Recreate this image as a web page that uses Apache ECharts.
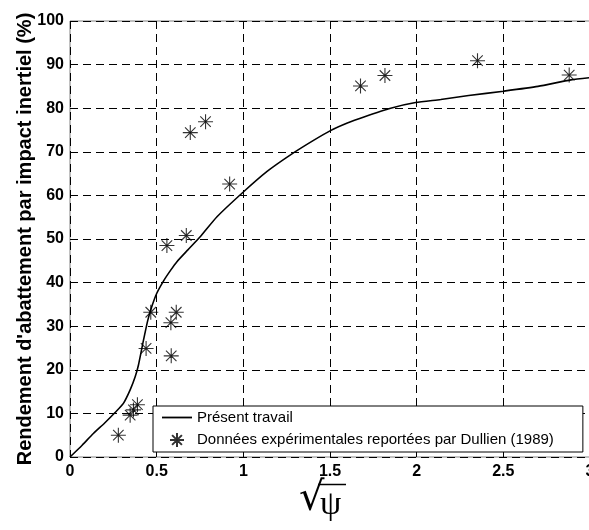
<!DOCTYPE html>
<html>
<head>
<meta charset="utf-8">
<script src="https://cdn.jsdelivr.net/npm/echarts@6/dist/echarts.min.js"></script>
<style>html,body{margin:0;padding:0;background:#fff;}#c{width:589px;height:530px;}</style>
</head>
<body>
<div id="c"></div>
<script>
// Model curve ("Présent travail")
var curveX = [0, 0.07, 0.135, 0.2, 0.26, 0.308, 0.347, 0.376, 0.395, 0.424, 0.449, 0.472, 0.5, 0.54, 0.58, 0.617, 0.68, 0.751, 0.848, 0.992, 1.137, 1.272, 1.4, 1.5, 1.6, 1.696, 1.85, 1.994, 2.139, 2.3, 2.501, 2.7, 2.89, 3.0];
var curveY = [0, 2.7, 5.4, 7.8, 10.2, 12.3, 15.4, 18.4, 21.1, 26.8, 31.4, 34.5, 37.5, 40.4, 42.8, 44.8, 47.5, 50.5, 55.1, 60.5, 65.5, 69.3, 72.5, 74.8, 76.6, 78.0, 80.0, 81.3, 82.0, 82.9, 83.9, 85.0, 86.5, 87.0];
// Experimental data (Dullien 1989)
var expX = [0.279, 0.347, 0.366, 0.389, 0.439, 0.466, 0.559, 0.582, 0.584, 0.613, 0.671, 0.694, 0.782, 0.921, 1.676, 1.817, 2.351, 2.88];
var expY = [5.0, 9.6, 10.8, 12.0, 24.9, 33.2, 48.5, 30.8, 23.2, 33.2, 50.8, 74.4, 76.9, 62.6, 85.1, 87.5, 90.9, 87.6];
var seriesNames = ['Présent travail', 'Données expérimentales reportées par Dullien (1989)'];
var yAxisTitle = "Rendement d'abattement par impact inertiel (%)";

var curveData = curveX.map(function (x, i) { return [x, curveY[i]]; });
var expData = expX.map(function (x, i) { return [x, expY[i]]; });
var star = 'path://M10,0L10,20M0,10L20,10M3,3L17,17M3,17L17,3M9.2,9.2L10.8,9.2L10.8,10.8L9.2,10.8Z';
var lineIcon = 'path://M0,0L30,0L30,1.8L0,1.8Z';
var font = 'Liberation Sans, Arial, sans-serif';

var chart = echarts.init(document.getElementById('c'), null, {renderer: 'canvas'});
chart.setOption({
  animation: false,
  backgroundColor: '#fff',
  grid: {left: 70, top: 21, right: -1, bottom: 73, containLabel: false, outerBoundsMode: 'none',
    show: true, borderColor: '#808080', borderWidth: 1, backgroundColor: 'transparent'},
  xAxis: {
    type: 'value', min: 0, max: 3, interval: 0.5,
    axisLine: {show: false},
    axisTick: {show: true, inside: true, length: 5, lineStyle: {color: '#000'}},
    axisLabel: {color: '#000', fontFamily: font, fontWeight: 'bold', fontSize: 16, margin: 7,
      formatter: function (v) { return String(v); }},
    splitLine: {show: true, lineStyle: {color: '#000', type: [8, 5], width: 1}}
  },
  yAxis: {
    type: 'value', min: 0, max: 100, interval: 10,
    name: yAxisTitle, nameLocation: 'middle', nameGap: 35, nameMoveOverlap: false,
    nameTextStyle: {color: '#000', fontFamily: font, fontWeight: 'bold', fontSize: 20},
    axisLine: {show: false},
    axisTick: {show: true, inside: true, length: 5, lineStyle: {color: '#000'}},
    axisLabel: {color: '#000', fontFamily: font, fontWeight: 'bold', fontSize: 16, margin: 6},
    splitLine: {show: true, lineStyle: {color: '#000', type: [8, 5], width: 1}}
  },
  legend: {
    orient: 'vertical', left: 153, top: 406,
    padding: [4, 29, 4, 9], itemGap: 7, itemWidth: 30, itemHeight: 14,
    backgroundColor: '#fff', borderColor: '#000', borderWidth: 1, borderRadius: 0,
    textStyle: {color: '#000', fontFamily: font, fontSize: 15},
    data: [{name: seriesNames[0], icon: lineIcon}, {name: seriesNames[1]}]
  },
  graphic: [
    {type: 'text', left: 299, top: 480, style: {text: '√', fontFamily: 'DejaVu Serif, serif', fontSize: 40, fill: '#000'}},
    {type: 'text', left: 320, top: 488, style: {text: 'ψ', fontFamily: 'Liberation Serif, DejaVu Serif, serif', fontSize: 34, fill: '#000'}},
    {type: 'line', shape: {x1: 318, y1: 484.5, x2: 346, y2: 484.5}, style: {stroke: '#000', lineWidth: 1.5}}
  ],
  series: [
    {
      name: seriesNames[0], type: 'line', data: curveData, symbol: 'none', smooth: 0.2,
      lineStyle: {color: '#000', width: 1.6}, itemStyle: {color: '#000'}, z: 3
    },
    {
      name: seriesNames[1], type: 'scatter', data: expData, symbol: star, symbolSize: 15,
      itemStyle: {color: '#000', borderColor: '#000', borderWidth: 1.1}, z: 4
    }
  ]
});
</script>
</body>
</html>
